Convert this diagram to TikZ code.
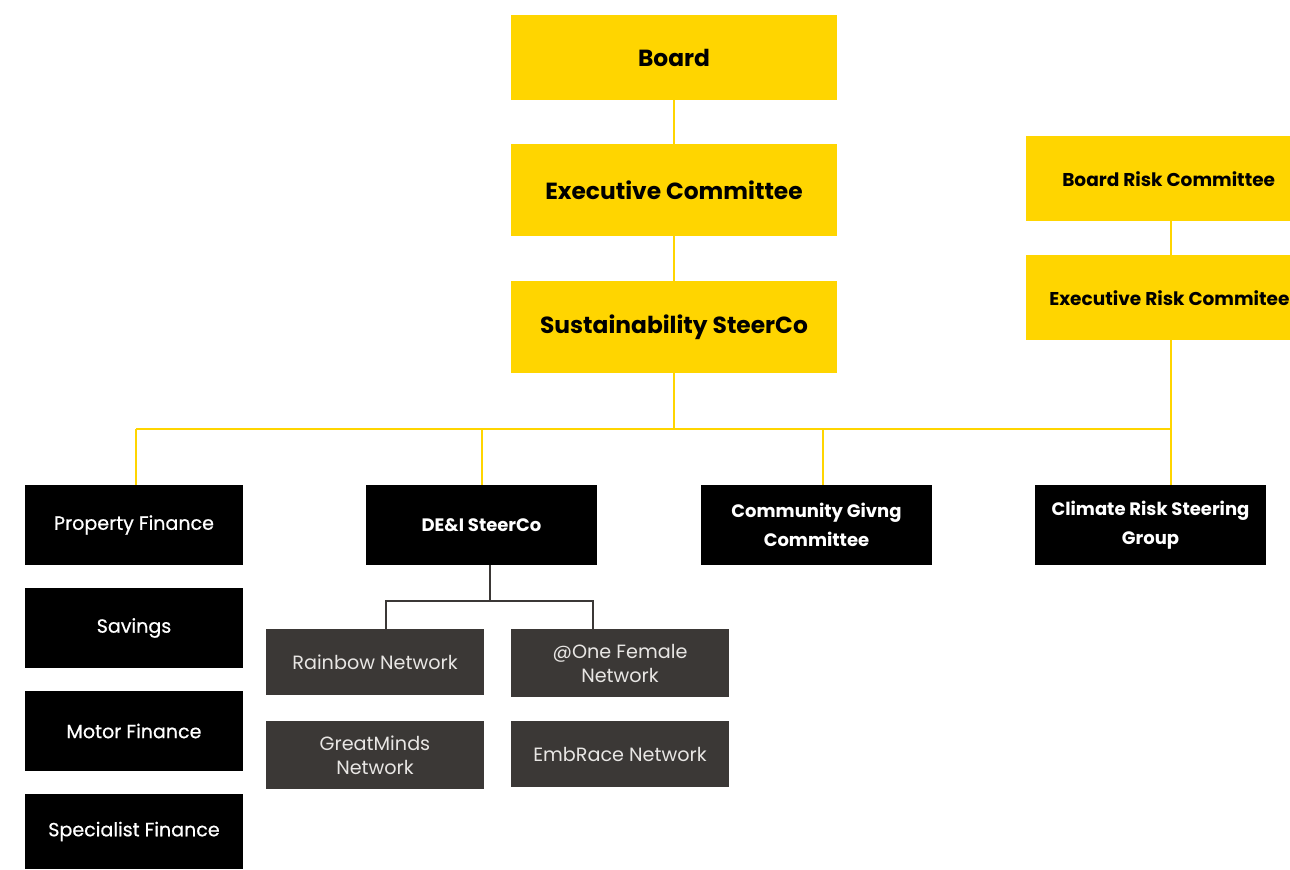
\documentclass[tikz,border=0pt]{standalone}
\usepackage{fontspec}
\setmainfont{Poppins}
\definecolor{ylw}{HTML}{FFD500}
\definecolor{dgrey}{HTML}{3B3836}
\definecolor{lgrey}{HTML}{E8E6E4}
\begin{document}
\begin{tikzpicture}[x=0.75pt,y=-0.75pt,
  ybox/.style={fill=ylw,draw=none,inner sep=0pt,align=center,font=\bfseries\fontsize{17.5}{20}\selectfont,text=black},
  rbox/.style={fill=ylw,draw=none,inner sep=0pt,align=center,font=\bfseries\fontsize{13.9}{16}\selectfont,text=black},
  bbox/.style={fill=black,draw=none,inner sep=0pt,align=center,font=\fontsize{14.3}{22}\selectfont\addfontfeature{FakeBold=0.6},text=white},
  bbbox/.style={fill=black,draw=none,inner sep=0pt,align=center,font=\bfseries\fontsize{13.5}{22}\selectfont,text=white},
  gbox/.style={fill=dgrey,draw=none,inner sep=0pt,align=center,font=\fontsize{14.4}{18}\selectfont,text=lgrey},
  yline/.style={draw=ylw,line width=1.6pt},
  gline/.style={draw=dgrey,line width=1.1pt}]
\useasboundingbox (0,0) rectangle (1290,869);
% yellow main column
\node[ybox,minimum width=326*0.75pt,minimum height=85*0.75pt] (board) at (674,57.5) {Board};
\node[ybox,minimum width=326*0.75pt,minimum height=92*0.75pt] (exec) at (674,190) {Executive Committee};
\node[ybox,minimum width=326*0.75pt,minimum height=92*0.75pt] (sust) at (674,327) {Sustainability SteerCo};
% risk column
\node[rbox,minimum width=264*0.75pt,minimum height=85*0.75pt] (brc) at (1158,178.5) {};
\node[rbox,anchor=west] (brct) at (1062,179) {Board Risk Committee};
\node[rbox,minimum width=264*0.75pt,minimum height=85*0.75pt] (erc) at (1158,297.5) {};
\node[rbox,anchor=west] (erct) at (1049,298) {Executive Risk Commitee};
% black boxes
\node[bbox,minimum width=218*0.75pt,minimum height=80*0.75pt] (prop) at (134,525) {Property Finance};
\node[bbox,minimum width=218*0.75pt,minimum height=80*0.75pt] (sav) at (134,628) {Savings};
\node[bbox,minimum width=218*0.75pt,minimum height=80*0.75pt] (motor) at (134,731) {Motor Finance};
\node[bbox,minimum width=218*0.75pt,minimum height=75*0.75pt] (spec) at (134,831.5) {Specialist Finance};
\node[bbbox,minimum width=231*0.75pt,minimum height=80*0.75pt] (dei) at (481.5,525) {DE\&I SteerCo};
\node[bbbox,minimum width=231*0.75pt,minimum height=80*0.75pt] (comm) at (816.5,525) {Community Givng\\Committee};
\node[bbbox,minimum width=231*0.75pt,minimum height=80*0.75pt] (clim) at (1150.5,525) {Climate Risk Steering\\Group};
% grey boxes
\node[gbox,minimum width=218*0.75pt,minimum height=66*0.75pt] (rain) at (375,662) {Rainbow Network};
\node[gbox,minimum width=218*0.75pt,minimum height=68*0.75pt] (one) at (620,663) {@One Female\\Network};
\node[gbox,minimum width=218*0.75pt,minimum height=68*0.75pt] (great) at (375,755) {GreatMinds\\Network};
\node[gbox,minimum width=218*0.75pt,minimum height=66*0.75pt] (emb) at (620,754) {EmbRace Network};
% connectors
\coordinate (hub) at (674,429);
\draw[yline] (board.south) -- (exec.north);
\draw[yline] (exec.south) -- (sust.north);
\draw[yline] (sust.south) -- (hub);
\draw[yline] (brc.south -| 1171,0) -- (erc.north -| 1171,0);
\draw[yline] (erc.south -| 1171,0) -- (1171,429) -- (clim.north -| 1171,0);
\draw[yline] (136,429) -- (1171,429);
\draw[yline] (136,429) -- (prop.north -| 136,0);
\draw[yline] (482,429) -- (dei.north -| 482,0);
\draw[yline] (823,429) -- (comm.north -| 823,0);
\draw[gline] (dei.south -| 490,0) -- (490,601);
\draw[gline] (386,629) -- (386,601) -- (593,601) -- (593,629);
\end{tikzpicture}
\end{document}
